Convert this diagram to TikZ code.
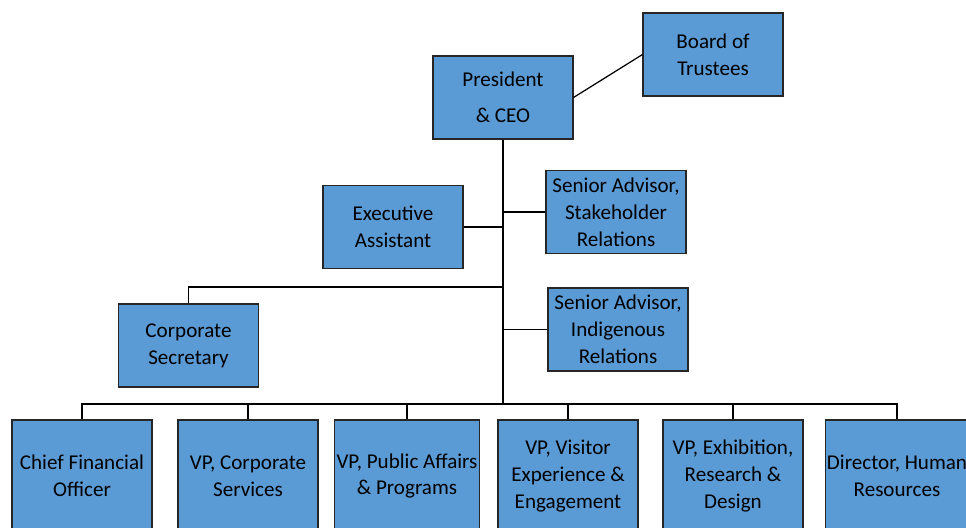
\documentclass[tikz,border=0pt]{standalone}
\usepackage{fontspec}
\setmainfont{Carlito}
\usepackage{tikz}
\usepackage{xcolor}
\definecolor{postblue}{RGB}{91,155,213}

\begin{document}
\begin{tikzpicture}[x=0.02cm,y=-0.02cm,line width=0.7pt,
  post/.style={draw=black!85,fill=postblue,line width=0.6pt,
    minimum width=2.8cm,minimum height=1.66cm,inner sep=1pt,
    align=center,font=\fontsize{12}{15.3}\selectfont},
  dept/.style={post,minimum height=2.24cm}]
\useasboundingbox (0,0) rectangle (966,527);
\clip (0,0) rectangle (966,527);

\node[post] (pres) at (503,97.5) {President\\[5pt]\& CEO};
\node[post] (board) at (713,54.5) {Board of\\Trustees};
\node[post] (exec) at (393,227) {Executive\\Assistant};
\node[post] (stake) at (616,212) {Senior Advisor,\\Stakeholder\\Relations};
\node[post] (corp) at (188.5,345.5) {Corporate\\Secretary};
\node[post] (indig) at (618,329.5) {Senior Advisor,\\Indigenous\\Relations};

\node[dept] (cfo) at (82,476) {Chief Financial\\Officer};
\node[dept] (vpcs) at (248,476) {VP, Corporate\\Services};
\node[dept] (vppa) at (407,476) {VP, Public Affairs\\\& Programs};
\node[dept] (vpve) at (568,476) {VP, Visitor\\Experience \&\\Engagement};
\node[dept] (vper) at (733,476) {VP, Exhibition,\\Research \&\\Design};
\node[dept] (dhr) at (897,476) {Director, Human\\Resources};

\coordinate (secjoin) at (503,287);
\coordinate (busmid) at (503,404);

\draw (pres.east) -- (board.west);
\draw (pres.south) -- (busmid);
\draw (exec.east) -- (exec.east -| pres.south);
\draw (stake.west) -- (stake.west -| pres.south);
\draw (indig.west) -- (indig.west -| pres.south);
\draw (corp.north) |- (secjoin);
\foreach \d in {cfo,vpcs,vppa,vpve,vper,dhr}
  \draw (\d.north) |- (busmid);
\end{tikzpicture}
\end{document}
